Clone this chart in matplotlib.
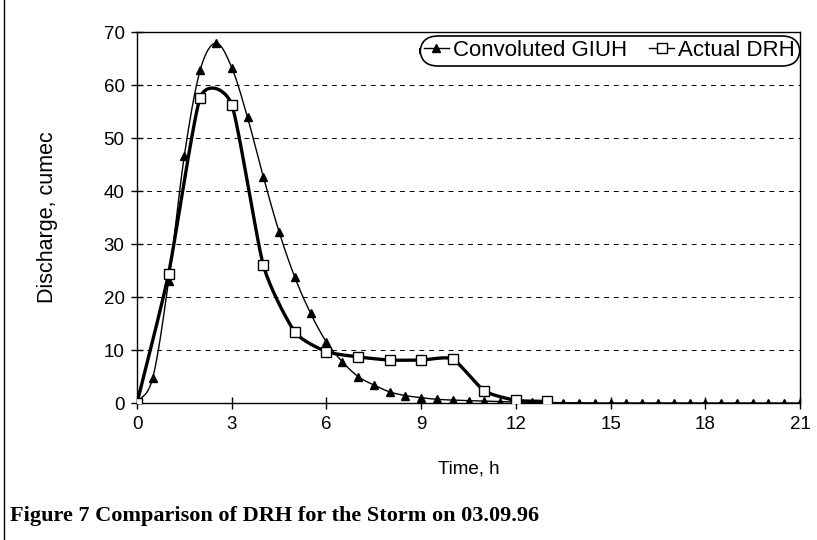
import numpy as np
import matplotlib
matplotlib.use("Agg")
import matplotlib.pyplot as plt
from matplotlib.lines import Line2D

plt.rcParams['font.family'] = ['Liberation Sans', 'DejaVu Sans']

# Convoluted GIUH, every half hour from 0 to 21 h
giuh_t = [i * 0.5 for i in range(43)]
giuh_q = [0.0, 4.8, 23.0, 46.7, 62.8, 67.9, 63.3, 53.9, 42.7, 32.3,
          23.7, 16.9, 11.5, 7.8, 5.0, 3.4, 2.1, 1.4, 1.0, 0.7,
          0.55, 0.45, 0.35, 0.25, 0.2, 0.15, 0.1, 0.05, 0.05, 0.0,
          0.0, 0.0, 0.0, 0.0, 0.0, 0.0, 0.0, 0.0, 0.0, 0.0,
          0.0, 0.0, 0.0]

# Actual DRH, hourly from 0 to 13 h
drh_t = [0, 1, 2, 3, 4, 5, 6, 7, 8, 9, 10, 11, 12, 13]
drh_q = [0.0, 24.4, 57.6, 56.3, 26.0, 13.4, 9.7, 8.7, 8.1, 8.1, 8.3, 2.3, 0.5, 0.3]

x_ticks = [0, 3, 6, 9, 12, 15, 18, 21]
y_ticks = [0, 10, 20, 30, 40, 50, 60, 70]


def smooth(x, y, k=1.0, n=20):
    # cubic Hermite curve through the points (k=1 is Catmull-Rom), drawn like
    # a spreadsheet "smoothed line"
    x = np.asarray(x, float)
    y = np.asarray(y, float)
    px = np.concatenate([[2 * x[0] - x[1]], x, [2 * x[-1] - x[-2]]])
    py = np.concatenate([[2 * y[0] - y[1]], y, [2 * y[-1] - y[-2]]])
    s = np.linspace(0, 1, n, endpoint=False)
    h00 = 2 * s ** 3 - 3 * s ** 2 + 1
    h10 = s ** 3 - 2 * s ** 2 + s
    h01 = -2 * s ** 3 + 3 * s ** 2
    h11 = s ** 3 - s ** 2
    sx, sy = [], []
    for i in range(1, len(px) - 2):
        for a, out in ((px, sx), (py, sy)):
            m1 = k * 0.5 * (a[i + 1] - a[i - 1])
            m2 = k * 0.5 * (a[i + 2] - a[i])
            out.extend(h00 * a[i] + h10 * m1 + h01 * a[i + 1] + h11 * m2)
    sx.append(x[-1])
    sy.append(y[-1])
    return np.array(sx), np.array(sy)


fig = plt.figure(figsize=(8.17, 5.40), dpi=100)
ax = fig.add_axes([0.1677, 0.2537, 0.8115, 0.687])

for v in y_ticks[1:-1]:
    ax.axhline(v, color='black', lw=0.7, ls=(0, (5, 5)), zorder=1)

gx, gy = smooth(giuh_t, giuh_q, k=1.0)
ax.plot(gx, np.clip(gy, 0, None), color='black', lw=1.0, zorder=3)
ax.plot(giuh_t, giuh_q, ls='none', marker='^', ms=6, color='black', zorder=4)

dx, dy = smooth(drh_t, drh_q, k=0.6)
ax.plot(dx, np.clip(dy, 0, None), color='black', lw=2.4, zorder=3)
ax.plot(drh_t, drh_q, ls='none', marker='s', ms=7, mfc='white', mec='black',
        mew=1.0, zorder=5)

ax.set_xlim(0, 21)
ax.set_ylim(0, 70)
ax.set_xticks(x_ticks)
ax.set_yticks(y_ticks)
ax.tick_params(axis='both', direction='inout', length=8, width=1, labelsize=13.5,
               pad=5)
for sp in ax.spines.values():
    sp.set_linewidth(1.0)

ax.set_xlabel('Time, h', fontsize=13.5, labelpad=20)
ax.set_ylabel('Discharge, cumec', fontsize=15.5, labelpad=33)

handles = [
    Line2D([], [], color='black', lw=1.0, marker='^', ms=6),
    Line2D([], [], color='black', lw=1.0, marker='s', ms=7, mfc='white'),
]
leg = ax.legend(handles, ['Convoluted GIUH', 'Actual DRH'], loc='upper right',
                ncol=2, fontsize=16, frameon=True, fancybox=True, handlelength=1.1,
                handletextpad=0.2, columnspacing=1.0, borderpad=0.1,
                bbox_to_anchor=(0.996, 0.984), borderaxespad=0)
leg.get_frame().set_edgecolor('black')
leg.get_frame().set_linewidth(1.2)
leg.get_frame().set_alpha(1)
leg.get_frame().set_boxstyle('round', pad=0.1, rounding_size=0.8)

fig.text(0.012, 0.035, 'Figure 7 Comparison of DRH for the Storm on 03.09.96',
         fontsize=16, fontweight='bold', family=['Liberation Serif', 'DejaVu Serif'])
fig.add_artist(Line2D([0.005, 0.005], [0.0, 1.0], color='black', lw=1.0))

fig.savefig('out.png', dpi=100)
